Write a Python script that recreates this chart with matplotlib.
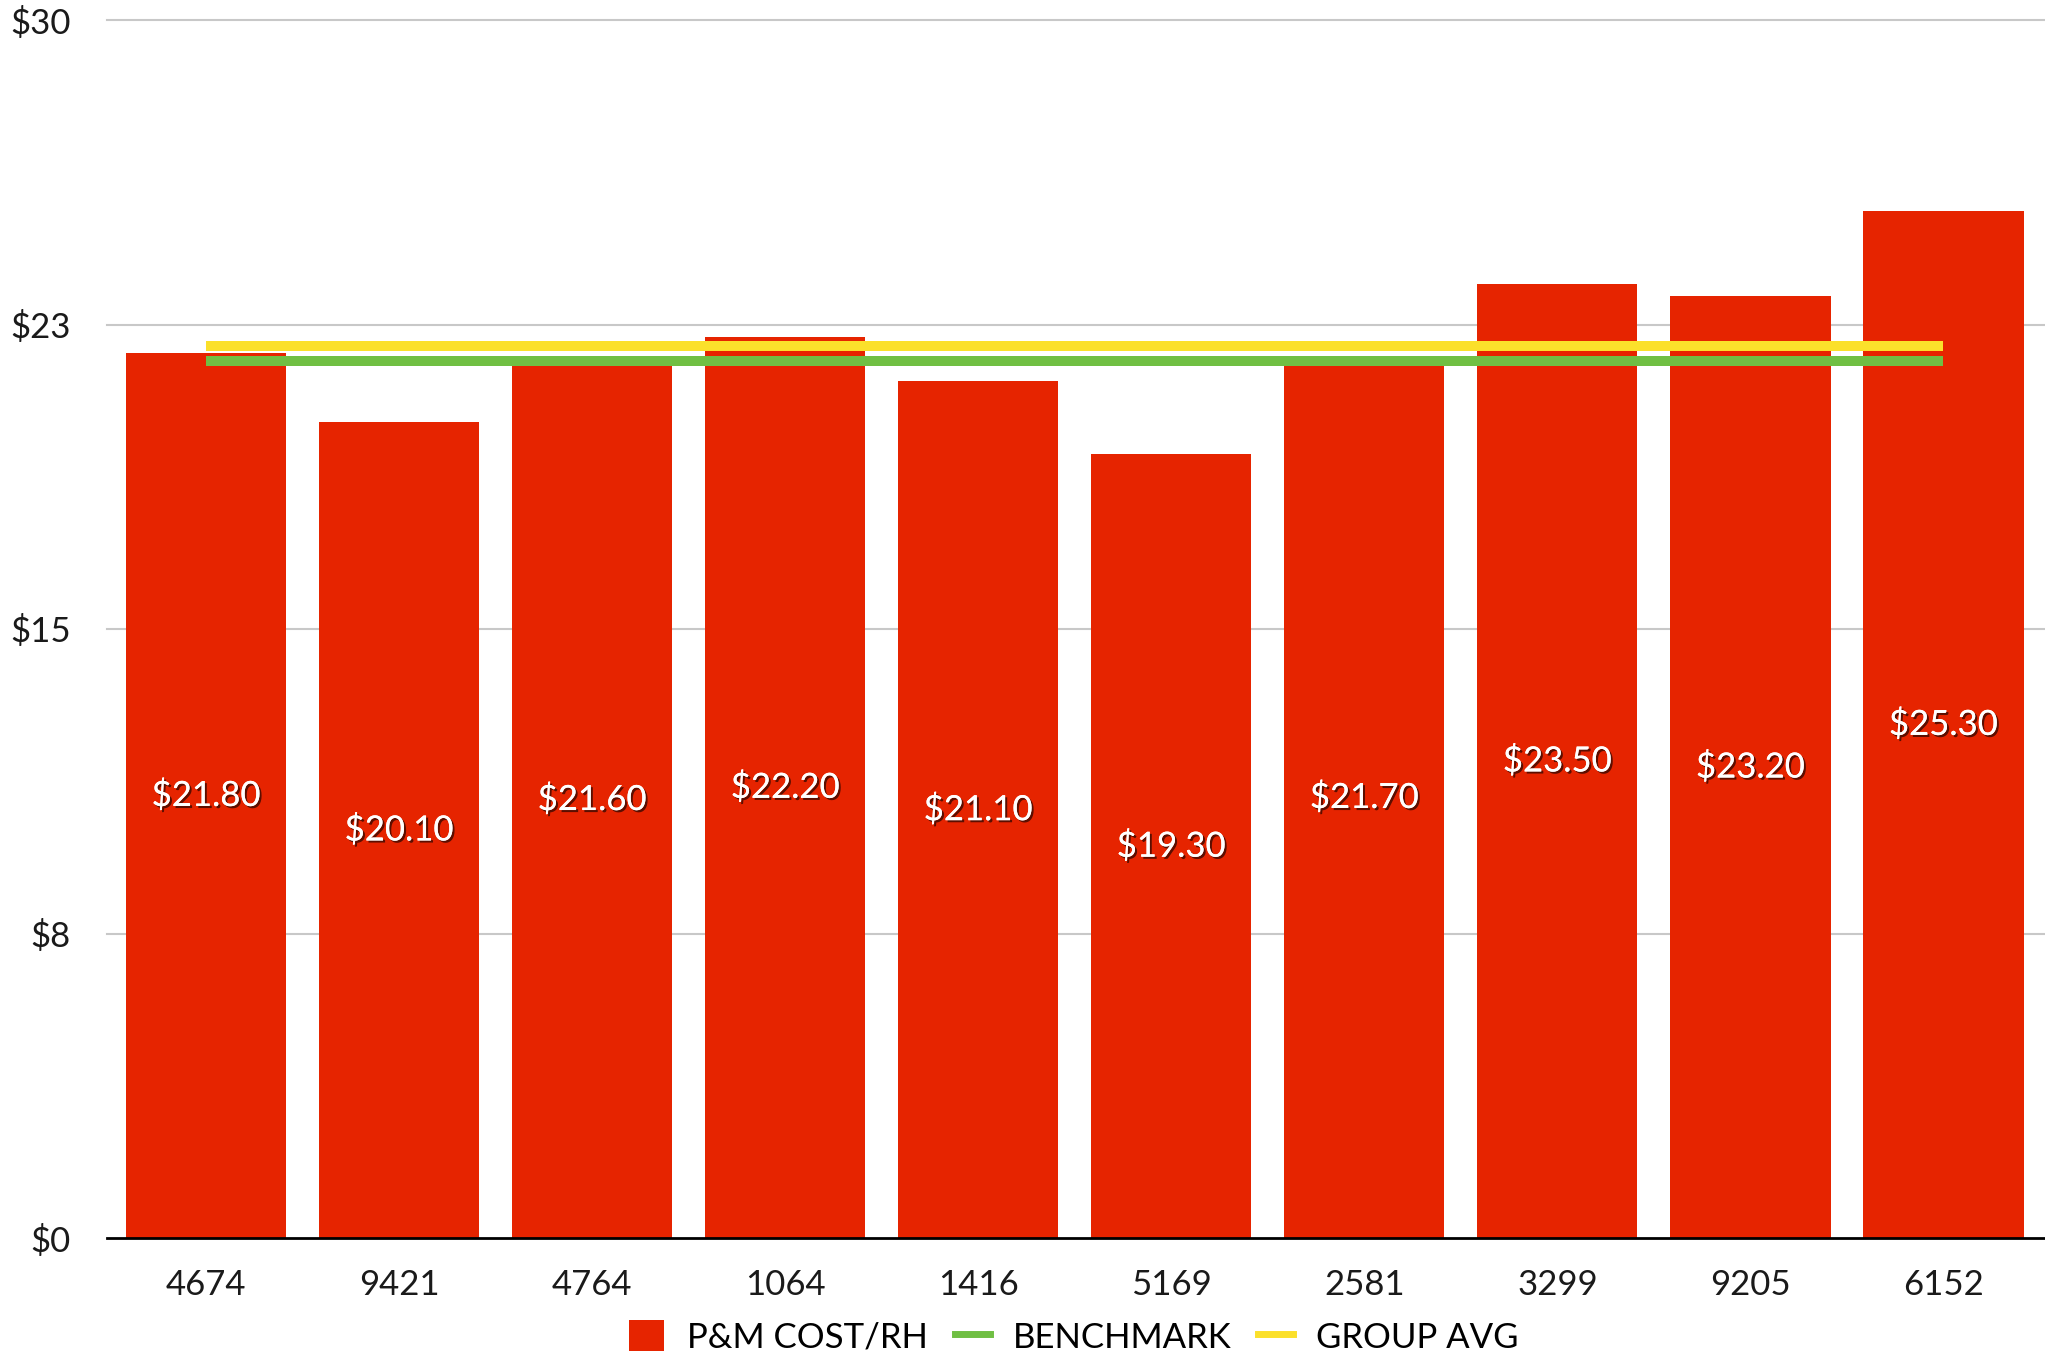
import numpy as np
import matplotlib.pyplot as plt
import matplotlib.patheffects as pe
from matplotlib.patches import Patch
from matplotlib.lines import Line2D

plt.rcParams['font.family'] = ['Lato', 'DejaVu Sans']

# Data
units = ["4674", "9421", "4764", "1064", "1416", "5169", "2581", "3299", "9205", "6152"]
cost_rh = [21.80, 20.10, 21.60, 22.20, 21.10, 19.30, 21.70, 23.50, 23.20, 25.30]
benchmark = 21.6
group_avg = 21.98
y_ticks = [0, 7.5, 15, 22.5, 30]
y_tick_labels = ["$0", "$8", "$15", "$23", "$30"]

RED = "#E62400"
GREEN = "#70BF43"
YELLOW = "#FBE02B"

fig = plt.figure(figsize=(20.45, 13.58), dpi=100)
ax = fig.add_axes([107 / 2045, 120 / 1358, 1 - 107 / 2045, 1218 / 1358])

x = np.arange(len(units))
ax.bar(x, cost_rh, width=0.83, color=RED, zorder=2)

# reference lines span first to last bar centre
ax.plot([x[0], x[-1]], [benchmark, benchmark], color=GREEN, lw=7.2,
        solid_capstyle="butt", zorder=3)
ax.plot([x[0], x[-1]], [group_avg, group_avg], color=YELLOW, lw=7.2,
        solid_capstyle="butt", zorder=3)

# value labels centred in bars
shadow = [pe.withSimplePatchShadow(offset=(1.5, -1.5), shadow_rgbFace="black", alpha=0.6),
          pe.Normal()]
for xi, v in zip(x, cost_rh):
    ax.text(xi, v / 2, f"${v:.2f}", ha="center", va="center", color="white",
            fontsize=25, zorder=4, path_effects=shadow)

ax.set_xlim(-0.513, 9.526)
ax.set_ylim(0, 30)
ax.set_yticks(y_ticks)
ax.set_yticklabels(y_tick_labels)
ax.set_xticks(x)
ax.set_xticklabels(units)
ax.tick_params(axis="both", length=0, labelsize=25, colors="#1a1a1a")
ax.tick_params(axis="y", pad=26)
ax.tick_params(axis="x", pad=22)

for yv in y_ticks[1:]:
    ax.axhline(yv, color="#C8C8C8", lw=1.5, zorder=1, clip_on=False)

for s in ["top", "right", "left"]:
    ax.spines[s].set_visible(False)
ax.spines["bottom"].set_color("black")
ax.spines["bottom"].set_linewidth(2)
ax.spines["bottom"].set_zorder(5)

handles = [Patch(facecolor=RED, edgecolor="none"),
           Line2D([0], [0], color=GREEN, lw=5),
           Line2D([0], [0], color=YELLOW, lw=5)]
fig.legend(handles, ["P&M COST/RH", "BENCHMARK", "GROUP AVG"],
           loc="center", bbox_to_anchor=(1074 / 2045, 21 / 1358), ncol=3,
           frameon=False, fontsize=25, handlelength=1.0, handleheight=1.0,
           handletextpad=0.66, columnspacing=0.78, borderpad=0)

fig.savefig("out.png", dpi=100, facecolor="white")
